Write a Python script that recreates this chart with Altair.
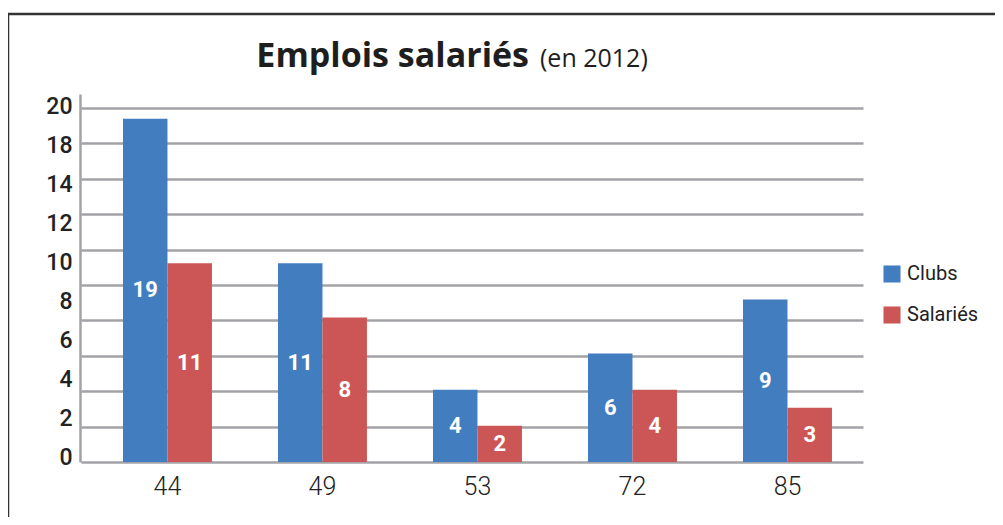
import json
import altair as alt
import pandas as pd

# ---- data ----
categories = ["44", "49", "53", "72", "85"]
series = ["Clubs", "Salariés"]
clubs = [19, 11, 4, 6, 9]
salaries = [11, 8, 2, 4, 3]
grid_values = [0, 2, 4, 6, 8, 10, 12, 14, 16, 18, 20]
tick_labels = ["0", "2", "4", "6", "8", "10", "12", "14", "18", "20"]
title_main = "Emplois salariés"
title_sub = "(en 2012)"

rows = []
for i, c in enumerate(categories):
    rows.append({"cat": c, "serie": "Clubs", "value": clubs[i]})
    rows.append({"cat": c, "serie": "Salariés", "value": salaries[i]})
df = pd.DataFrame(rows)

grid_df = pd.DataFrame({"g": grid_values})
label_df = pd.DataFrame({"i": list(range(len(tick_labels))), "lab": tick_labels})

FONT = "Roboto"
TFONT = "Open Sans"
W, H = 782, 368
BLUE, RED = "#427DC0", "#CC5656"
GRID = "#A3A3A7"

x_scale = alt.Scale(domain=categories, paddingInner=0.426, paddingOuter=0.2355, align=0.575)
bar_y = alt.Scale(domain=[0, 20.37], nice=False, zero=True)

x_axis = alt.Axis(title=None, labelFontSize=25, labelFont=FONT, labelColor="#222222",
                  labelFontWeight=300, labelPadding=12, ticks=False, domain=False,
                  grid=False, labelAngle=0)
xoff = alt.XOffset("serie:N", sort=series, scale=alt.Scale(domain=series, paddingInner=0, paddingOuter=0))

bars = alt.Chart(df).mark_bar().encode(
    x=alt.X("cat:N", scale=x_scale, sort=categories, axis=x_axis),
    xOffset=xoff,
    y=alt.Y("value:Q", scale=bar_y, axis=None),
    color=alt.Color("serie:N", sort=series,
                    scale=alt.Scale(domain=series, range=[BLUE, RED]),
                    legend=alt.Legend(title=None, orient="none", legendX=W + 19, legendY=170,
                                      symbolType="square", symbolSize=290, symbolStrokeWidth=0,
                                      labelFontSize=20, labelFont=FONT, labelColor="#222222",
                                      labelOffset=5, rowPadding=21)),
)

texts = alt.Chart(df).transform_calculate(mid="datum.value / 2").mark_text(
    color="white", fontWeight="bold", fontSize=22, font=FONT, baseline="middle"
).encode(
    x=alt.X("cat:N", scale=x_scale, sort=categories, axis=x_axis),
    xOffset=xoff,
    y=alt.Y("mid:Q", scale=bar_y, axis=None),
    text=alt.Text("value:Q"),
)

bar_layer = alt.layer(bars, texts)

grid_layer = alt.Chart(grid_df).mark_point(opacity=0).encode(
    y=alt.Y("g:Q", scale=alt.Scale(domain=[0, 20.79], nice=False, zero=True),
            axis=alt.Axis(orient="right", values=grid_values, grid=True, gridColor=GRID,
                          gridWidth=2.5, gridOpacity=1, labels=False, ticks=False,
                          domain=False, title=None))
)

label_expr = json.dumps(tick_labels) + "[datum.value]"
label_layer = alt.Chart(label_df).mark_point(opacity=0).encode(
    y=alt.Y("i:Q", scale=alt.Scale(domain=[-0.103, 9.333], nice=False, zero=False),
            axis=alt.Axis(orient="left", values=list(range(len(tick_labels))), labelExpr=label_expr,
                          grid=False, ticks=False, domain=True, domainColor=GRID, domainWidth=2.5,
                          labelFontSize=23, labelFont=FONT, labelFontWeight=500,
                          labelColor="#222222", labelPadding=8, offset=1, title=None))
)

one = pd.DataFrame({"a": [0]})
frame_top = alt.Chart(one).mark_rule(color="#333333", strokeWidth=2.5).encode(
    x=alt.value(-73), x2=alt.value(W + 140), y=alt.value(-80))
frame_left = alt.Chart(one).mark_rule(color="#333333", strokeWidth=2.5).encode(
    x=alt.value(-73), y=alt.value(-80), y2=alt.value(H + 70))

t_main = alt.Chart(pd.DataFrame({"t": [title_main]})).mark_text(
    font=TFONT, fontSize=34, fontWeight="bold", color="#1E1E1E", align="right", baseline="alphabetic"
).encode(text="t:N", x=alt.value(448), y=alt.value(-27))
t_sub = alt.Chart(pd.DataFrame({"t": [title_sub]})).mark_text(
    font=TFONT, fontSize=25, color="#1E1E1E", align="left", baseline="alphabetic"
).encode(text="t:N", x=alt.value(459), y=alt.value(-27))

chart = alt.layer(bar_layer, grid_layer, label_layer, frame_top, frame_left, t_main, t_sub).resolve_scale(
    y="independent"
).properties(
    width=W, height=H,
    view=alt.ViewBackground(stroke="transparent", strokeWidth=0),
    autosize=alt.AutoSizeParams(type="none"),
    padding={"left": 73, "top": 86, "right": 132, "bottom": 55},
).configure_view(
    stroke="transparent", strokeWidth=0
).configure_axis(
    grid=False
).configure(
    background="white",
    style={"cell": {"stroke": "transparent", "strokeWidth": 0}},
)

chart.save("out.html", embed_options={"renderer": "svg", "actions": False})
